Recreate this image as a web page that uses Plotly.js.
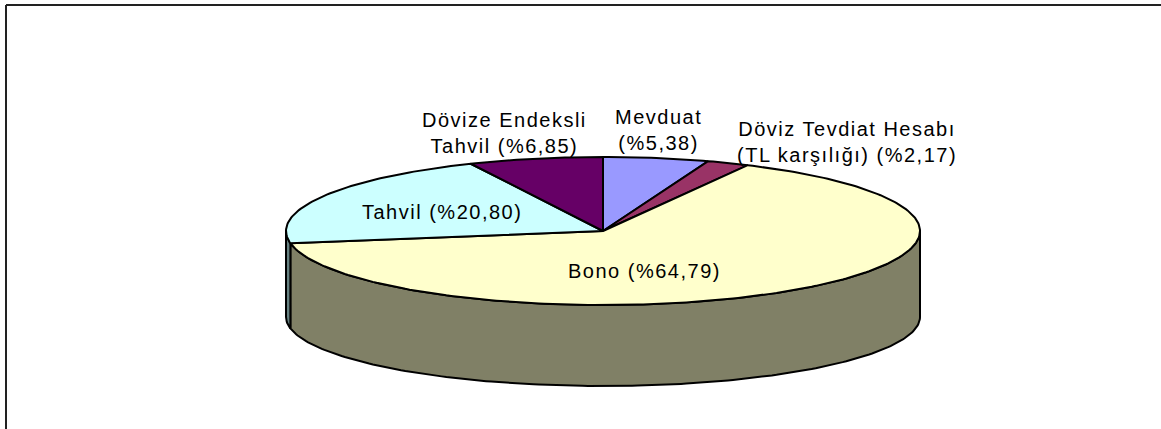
<!DOCTYPE html>
<html>
<head>
<meta charset="utf-8">
<script src="https://cdn.plot.ly/plotly-3.0.1.min.js"></script>
<style>
html, body { margin: 0; padding: 0; background: #ffffff; }
#chart { width: 1161px; height: 429px; }
.annotation-text { letter-spacing: 1.5px; }
</style>
</head>
<body>
<div id="chart"></div>
<script>
// ---- data ----
const categories = ['Mevduat', 'Döviz Tevdiat Hesabı (TL karşılığı)', 'Bono', 'Tahvil', 'Dövize Endeksli Tahvil'];
const shares = [5.38, 2.17, 64.79, 20.80, 6.85];
const labelLines = [
  ['Mevduat', ''],
  ['Döviz Tevdiat Hesabı', '(TL karşılığı) '],
  ['', 'Bono '],
  ['', 'Tahvil '],
  ['Dövize Endeksli', 'Tahvil ']
];

// ---- styles / geometry ----
const topColors  = ['#9999FF', '#993366', '#FFFFCC', '#CCFFFF', '#660066'];
const sideColors = ['#4D4D80', '#4D1A33', '#808066', '#668080', '#330033'];
const labelPos = [[658, 130], [847, 142], [644, 271], [442, 212], [504, 133]];
const W = 1161, H = 429;
const CX = 603, CY = 231, RX = 317, RY = 74;   // top face
const CY2 = 317, RY2 = 69;                      // bottom rim

function fmt(v) { return v.toFixed(2).replace('.', ','); }
function arc(a, b, cy, ry) {
  const xs = [], ys = [];
  const n = Math.max(2, Math.ceil(Math.abs(b - a)));
  for (let i = 0; i <= n; i++) {
    const t = (a + (b - a) * i / n) * Math.PI / 180;
    xs.push(CX + RX * Math.sin(t));
    ys.push(cy - ry * Math.cos(t));
  }
  return [xs, ys];
}

const total = shares.reduce((s, v) => s + v, 0);
const bounds = [];
let acc = 0;
shares.forEach(v => { const a = acc / total * 360; acc += v; bounds.push([a, acc / total * 360]); });

const traces = [];
// side walls (front half only: 90..270 deg)
bounds.forEach(([a, b], i) => {
  const s = Math.max(a, 90), e = Math.min(b, 270);
  if (e <= s) return;
  const [tx, ty] = arc(s, e, CY, RY);
  const [bx, by] = arc(e, s, CY2, RY2);
  traces.push({
    type: 'scatter', mode: 'lines', x: tx.concat(bx, [tx[0]]), y: ty.concat(by, [ty[0]]),
    fill: 'toself', fillcolor: sideColors[i], line: { color: '#000', width: 2 },
    hoverinfo: 'skip', showlegend: false
  });
});
// top faces
bounds.forEach(([a, b], i) => {
  const [tx, ty] = arc(a, b, CY, RY);
  traces.push({
    type: 'scatter', mode: 'lines', x: [CX].concat(tx, [CX]), y: [CY].concat(ty, [CY]),
    fill: 'toself', fillcolor: topColors[i], line: { color: '#000', width: 2 },
    hoverinfo: 'skip', showlegend: false
  });
});

const annotations = categories.map((c, i) => {
  const l = labelLines[i];
  const pct = '(%' + fmt(shares[i]) + ')';
  const second = l[1] + pct;
  const text = l[0] ? l[0] + '<br>' + second : second;
  return {
    x: labelPos[i][0], y: labelPos[i][1], xref: 'x', yref: 'y', text: text,
    showarrow: false, xanchor: 'center', yanchor: 'middle', align: 'center',
    font: { family: '"Liberation Sans", Arial, sans-serif', size: 20, color: '#000' }
  };
});

const layout = {
  width: W, height: H, autosize: false,
  margin: { l: 0, r: 0, t: 0, b: 0, pad: 0 },
  paper_bgcolor: '#ffffff', plot_bgcolor: '#ffffff',
  xaxis: { range: [0, W], visible: false, fixedrange: true },
  yaxis: { range: [H, 0], visible: false, fixedrange: true },
  showlegend: false,
  annotations: annotations,
  shapes: [
    { type: 'line', xref: 'x', yref: 'y', x0: 6, y0: 5, x1: W, y1: 5, line: { color: '#222', width: 2 } },
    { type: 'line', xref: 'x', yref: 'y', x0: 6, y0: 5, x1: 6, y1: H, line: { color: '#222', width: 2 } }
  ]
};

Plotly.newPlot('chart', traces, layout, { staticPlot: true, displayModeBar: false });
</script>
</body>
</html>
